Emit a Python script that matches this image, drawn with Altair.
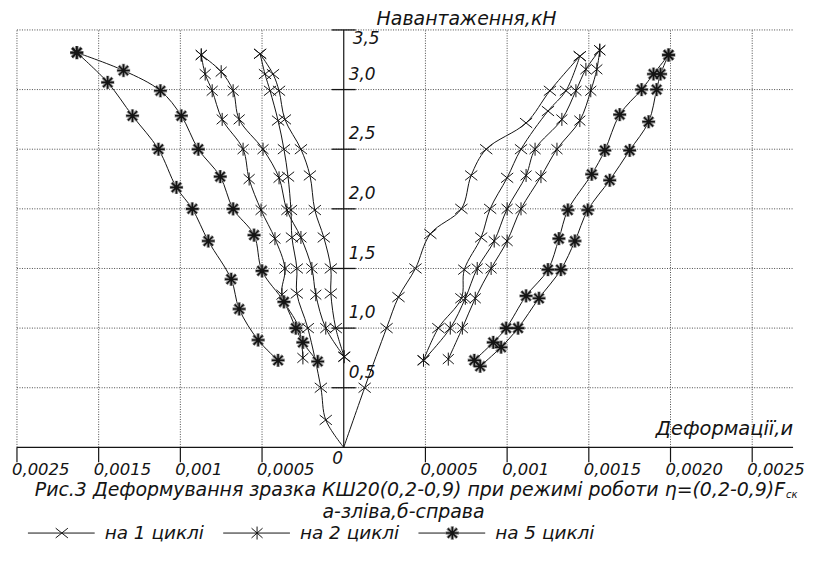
import altair as alt
import pandas as pd

# ---------------- data ----------------
# vertical axis: load, kN; horizontal axis: strain.
# left gauge (а-зліва) is drawn to the left of the load axis (negative side).
left_c1_load_x = [0.0, -0.000110, -0.000140, -0.000220, -0.000287, -0.000287, -0.000317,
                  -0.000323, -0.000341, -0.000366, -0.000402, -0.000451, -0.000482, -0.000512]
left_c1_load_y = [0.0, 0.23, 0.50, 1.00, 1.29, 1.50, 1.76, 1.99, 2.27, 2.50, 2.74, 2.99, 3.13, 3.30]

left_c1_unload_x = [-0.000512, -0.000433, -0.000396, -0.000360, -0.000262, -0.000207, -0.000177,
                    -0.000122, -0.000079, -0.000079, -0.000049, 0.000003]
left_c1_unload_y = [3.30, 3.13, 2.99, 2.75, 2.50, 2.28, 1.99, 1.76, 1.50, 1.29, 1.00, 0.76]

left_c2_load_x = [0.000003, -0.000110, -0.000171, -0.000195, -0.000262, -0.000348, -0.000396,
                  -0.000494, -0.000640, -0.000677, -0.000750, -0.000872]
left_c2_load_y = [0.76, 1.00, 1.28, 1.50, 1.76, 1.99, 2.26, 2.50, 2.75, 2.99, 3.15, 3.29]

left_c2_unload_x = [-0.000872, -0.000848, -0.000805, -0.000744, -0.000616, -0.000579, -0.000506,
                    -0.000421, -0.000360, -0.000378, -0.000274, -0.000250]
left_c2_unload_y = [3.29, 3.13, 2.99, 2.75, 2.50, 2.25, 1.99, 1.75, 1.50, 1.28, 1.00, 0.75]

left_c5_load_x = [-0.000159, -0.000250, -0.000293, -0.000366, -0.000500, -0.000549, -0.000677,
                  -0.000756, -0.000890, -0.000994, -0.001122, -0.001348, -0.001634]
left_c5_load_y = [0.72, 0.88, 1.00, 1.22, 1.48, 1.78, 2.00, 2.27, 2.50, 2.78, 2.99, 3.16, 3.31]

left_c5_unload_x = [-0.001634, -0.001445, -0.001293, -0.001134, -0.001024, -0.000927, -0.000829,
                    -0.000689, -0.000640, -0.000524, -0.000402]
left_c5_unload_y = [3.31, 3.06, 2.78, 2.50, 2.18, 2.00, 1.73, 1.41, 1.16, 0.90, 0.73]

right_c1_load_x = [0.0, 0.000128, 0.000262, 0.000335, 0.000439, 0.000530, 0.000720, 0.000780,
                   0.000872, 0.001116, 0.001262, 0.001445]
right_c1_load_y = [0.0, 0.50, 1.00, 1.26, 1.50, 1.79, 2.00, 2.28, 2.50, 2.72, 2.99, 3.28]

right_c1_unload_x = [0.001445, 0.001360, 0.001250, 0.001085, 0.001000, 0.000896, 0.000841,
                     0.000738, 0.000720, 0.000579, 0.000488]
right_c1_unload_y = [3.28, 2.99, 2.82, 2.50, 2.26, 2.00, 1.76, 1.49, 1.25, 1.00, 0.73]

right_c2_load_x = [0.000488, 0.000652, 0.000744, 0.000817, 0.000921, 0.001000, 0.001116,
                   0.001171, 0.001335, 0.001421, 0.001482, 0.001567]
right_c2_load_y = [0.73, 1.00, 1.25, 1.50, 1.73, 2.00, 2.28, 2.50, 2.75, 2.99, 3.17, 3.33]

right_c2_unload_x = [0.001567, 0.001549, 0.001512, 0.001445, 0.001305, 0.001207, 0.001085,
                     0.001000, 0.000902, 0.000805, 0.000726, 0.000640]
right_c2_unload_y = [3.33, 3.17, 2.99, 2.74, 2.50, 2.27, 2.00, 1.73, 1.50, 1.25, 1.00, 0.74]

right_c5_load_x = [0.000799, 0.000915, 0.000994, 0.001116, 0.001250, 0.001317, 0.001372,
                   0.001518, 0.001598, 0.001689, 0.001823, 0.001896, 0.001988]
right_c5_load_y = [0.73, 0.88, 1.00, 1.27, 1.49, 1.75, 1.99, 2.29, 2.49, 2.79, 3.00, 3.13, 3.29]

right_c5_unload_x = [0.001988, 0.001939, 0.001915, 0.001866, 0.001750, 0.001628, 0.001494,
                     0.001415, 0.001329, 0.001195, 0.001067, 0.000963, 0.000835]
right_c5_unload_y = [3.29, 3.13, 3.00, 2.73, 2.49, 2.24, 1.99, 1.73, 1.49, 1.25, 1.00, 0.84, 0.68]

X_MIN, X_MAX = -0.002, 0.00275
Y_MIN, Y_MAX = 0.0, 3.5
XTICK_VALUES = [-0.002, -0.0015, -0.001, -0.0005, 0.0005, 0.001, 0.0015, 0.002, 0.0025]
XTICK_LABELS = ["0,0025", "0,0015", "0,001", "0,0005", "0,0005", "0,001", "0,0015", "0,0020", "0,0025"]
YTICK_VALUES = [0.5, 1.0, 1.5, 2.0, 2.5, 3.0, 3.5]
YTICK_LABELS = ["0,5", "1,0", "1,5", "2,0", "2,5", "3,0", "3,5"]
LEGEND_LABELS = ["на 1 циклі", "на 2 циклі", "на 5 циклі"]
LEGEND_CYCLES = [1, 2, 5]
Y_TITLE = "Навантаження,кН"
X_TITLE = "Деформації,и"
ZERO_LABEL = "0"
CAPTION_1 = "Рис.3 Деформування зразка КШ20(0,2-0,9) при режимі роботи η=(0,2-0,9)F"
CAPTION_SUB = "ск"
CAPTION_2 = "а-зліва,б-справа"

branches = [
    ("left_c1_load", 1, left_c1_load_x, left_c1_load_y),
    ("left_c1_unload", 1, left_c1_unload_x, left_c1_unload_y),
    ("left_c2_load", 2, left_c2_load_x, left_c2_load_y),
    ("left_c2_unload", 2, left_c2_unload_x, left_c2_unload_y),
    ("left_c5_load", 5, left_c5_load_x, left_c5_load_y),
    ("left_c5_unload", 5, left_c5_unload_x, left_c5_unload_y),
    ("right_c1_load", 1, right_c1_load_x, right_c1_load_y),
    ("right_c1_unload", 1, right_c1_unload_x, right_c1_unload_y),
    ("right_c2_load", 2, right_c2_load_x, right_c2_load_y),
    ("right_c2_unload", 2, right_c2_unload_x, right_c2_unload_y),
    ("right_c5_load", 5, right_c5_load_x, right_c5_load_y),
    ("right_c5_unload", 5, right_c5_unload_x, right_c5_unload_y),
]
rows = []
for name, cyc, xs, ys in branches:
    for i, (xv, yv) in enumerate(zip(xs, ys)):
        rows.append({"branch": name, "cycle": cyc, "i": i, "x": xv, "y": yv})
df = pd.DataFrame(rows)

xt = pd.DataFrame({"v": XTICK_VALUES, "label": XTICK_LABELS,
                   "y0": [Y_MIN] * len(XTICK_VALUES), "y1": [Y_MAX] * len(XTICK_VALUES)})
yt = pd.DataFrame({"v": YTICK_VALUES, "label": YTICK_LABELS,
                   "x0": [X_MIN] * len(YTICK_VALUES), "x1": [X_MAX] * len(YTICK_VALUES),
                   "zx": [0.0] * len(YTICK_VALUES)})
axes_df = pd.DataFrame({"x0": [X_MIN, 0.0], "x1": [X_MAX, 0.0],
                        "y0": [Y_MIN, Y_MIN], "y1": [Y_MIN, Y_MAX]})
origin_df = pd.DataFrame({"x": [0.0], "y": [0.0], "label": [ZERO_LABEL]})

# ---------------- styling ----------------
W, H = 779, 419
FONT = "DejaVu Sans"
INK = "#141414"
GRID = "#4a4a4a"
XS = alt.Scale(domain=[X_MIN, X_MAX], nice=False, zero=False)
YS = alt.Scale(domain=[Y_MIN, Y_MAX], nice=False, zero=False)

SHAPES = {
    1: "M-1,-0.8L1,0.8M-1,0.8L1,-0.8",
    2: "M-0.85,-0.75L0.85,0.75M-0.85,0.75L0.85,-0.75M0,-1L0,1",
    5: "M-1,0L1,0M0,-1L0,1M-0.72,-0.72L0.72,0.72M-0.72,0.72L0.72,-0.72",
}


def marks_for(base, cyc):
    if cyc == 5:
        return [
            base.mark_point(shape=SHAPES[5], filled=False, stroke="#8c8c8c", strokeWidth=3.4,
                            size=180, opacity=0.85),
            base.mark_point(shape=SHAPES[5], filled=False, stroke=INK, strokeWidth=1.6,
                            size=160, opacity=1),
        ]
    size = 150 if cyc == 1 else 170
    return [base.mark_point(shape=SHAPES[cyc], filled=False, stroke=INK, strokeWidth=1,
                            size=size, opacity=1)]


def qx(f):
    return alt.X(f, type="quantitative", scale=XS, axis=None)


def qy(f):
    return alt.Y(f, type="quantitative", scale=YS, axis=None)


layers = []

# dotted grid
layers.append(alt.Chart(xt).mark_rule(color=GRID, strokeWidth=1, strokeDash=[1, 1.5]).encode(
    x=qx("v"), y=qy("y0"), y2="y1:Q"))
layers.append(alt.Chart(yt).mark_rule(color=GRID, strokeWidth=1, strokeDash=[1, 1.5]).encode(
    y=qy("v"), x=qx("x0"), x2="x1:Q"))

# axes through the origin
layers.append(alt.Chart(axes_df).mark_rule(color=INK, strokeWidth=1.2).encode(
    x=qx("x0"), x2="x1:Q", y=qy("y0"), y2="y1:Q"))
layers.append(alt.Chart(xt).mark_rule(color=INK, strokeWidth=1.2).encode(
    x=qx("v"), y=qy("y0"), y2=alt.value(H + 15)))
layers.append(alt.Chart(yt).mark_tick(orient="horizontal", color=INK, size=24, thickness=1.3,
                                      opacity=1).encode(x=qx("zx"), y=qy("v")))

# tick labels
txt = dict(font=FONT, fontStyle="italic", color=INK)
layers.append(alt.Chart(xt).mark_text(align="left", baseline="middle", dx=-5, dy=23, fontSize=16.5,
                                      **txt).encode(x=qx("v"), y=qy("y0"), text="label:N"))
layers.append(alt.Chart(origin_df).mark_text(align="center", baseline="middle", dx=-6, dy=12,
                                             fontSize=17, **txt).encode(
    x=qx("x"), y=qy("y"), text="label:N"))
layers.append(alt.Chart(yt).transform_filter("datum.v < 3.5").mark_text(
    align="left", baseline="middle", dx=5, dy=-15, fontSize=17, **txt).encode(
    x=qx("zx"), y=qy("v"), text="label:N"))
layers.append(alt.Chart(yt).transform_filter("datum.v >= 3.5").mark_text(
    align="left", baseline="middle", dx=9, dy=9, fontSize=17, **txt).encode(
    x=qx("zx"), y=qy("v"), text="label:N"))

# curves
layers.append(alt.Chart(df).mark_line(color=INK, strokeWidth=1, interpolate="catmull-rom").encode(
    x=qx("x"), y=qy("y"), detail="branch:N", order="i:Q"))
for c in LEGEND_CYCLES:
    base = alt.Chart(df).transform_filter(f"datum.cycle == {c} && datum.y > 0").encode(
        x=qx("x"), y=qy("y"))
    layers.extend(marks_for(base, c))


# free texts (titles, caption)
def free_text(s, x, y, size, align="left", baseline="middle"):
    d = pd.DataFrame({"t": [s]})
    return alt.Chart(d).mark_text(align=align, baseline=baseline, fontSize=size, **txt).encode(
        x=alt.value(x), y=alt.value(y), text="t:N")


layers.append(free_text(Y_TITLE, 361, -5, 19, baseline="alphabetic"))
layers.append(free_text(X_TITLE, W, H - 18, 19.5, "right"))
layers.append(free_text(CAPTION_1, 771, H + 43, 19, "right"))
layers.append(free_text(CAPTION_SUB, 772, H + 48, 10))
layers.append(free_text(CAPTION_2, 388, H + 65, 19, "center"))

# legend row
LEG_Y = H + 86
for k, (lab, c) in enumerate(zip(LEGEND_LABELS, LEGEND_CYCLES)):
    off = k * 196
    d = pd.DataFrame({"t": [lab]})
    layers.append(alt.Chart(d).mark_rule(color=INK, strokeWidth=1).encode(
        x=alt.value(11 + off), x2=alt.value(78 + off), y=alt.value(LEG_Y)))
    layers.append(free_text(lab, 88 + off, LEG_Y, 18.5))
    lb = alt.Chart(d).encode(x=alt.value(45 + off), y=alt.value(LEG_Y))
    layers.extend(marks_for(lb, c))

chart = alt.layer(*layers).properties(
    width=W, height=H,
    autosize=alt.AutoSizeParams(type="none"),
    padding={"left": 9, "top": 21, "right": 14, "bottom": 105},
    background="white",
).configure_view(stroke=None)

chart.save("out.html", embed_options={"renderer": "svg", "actions": False})
